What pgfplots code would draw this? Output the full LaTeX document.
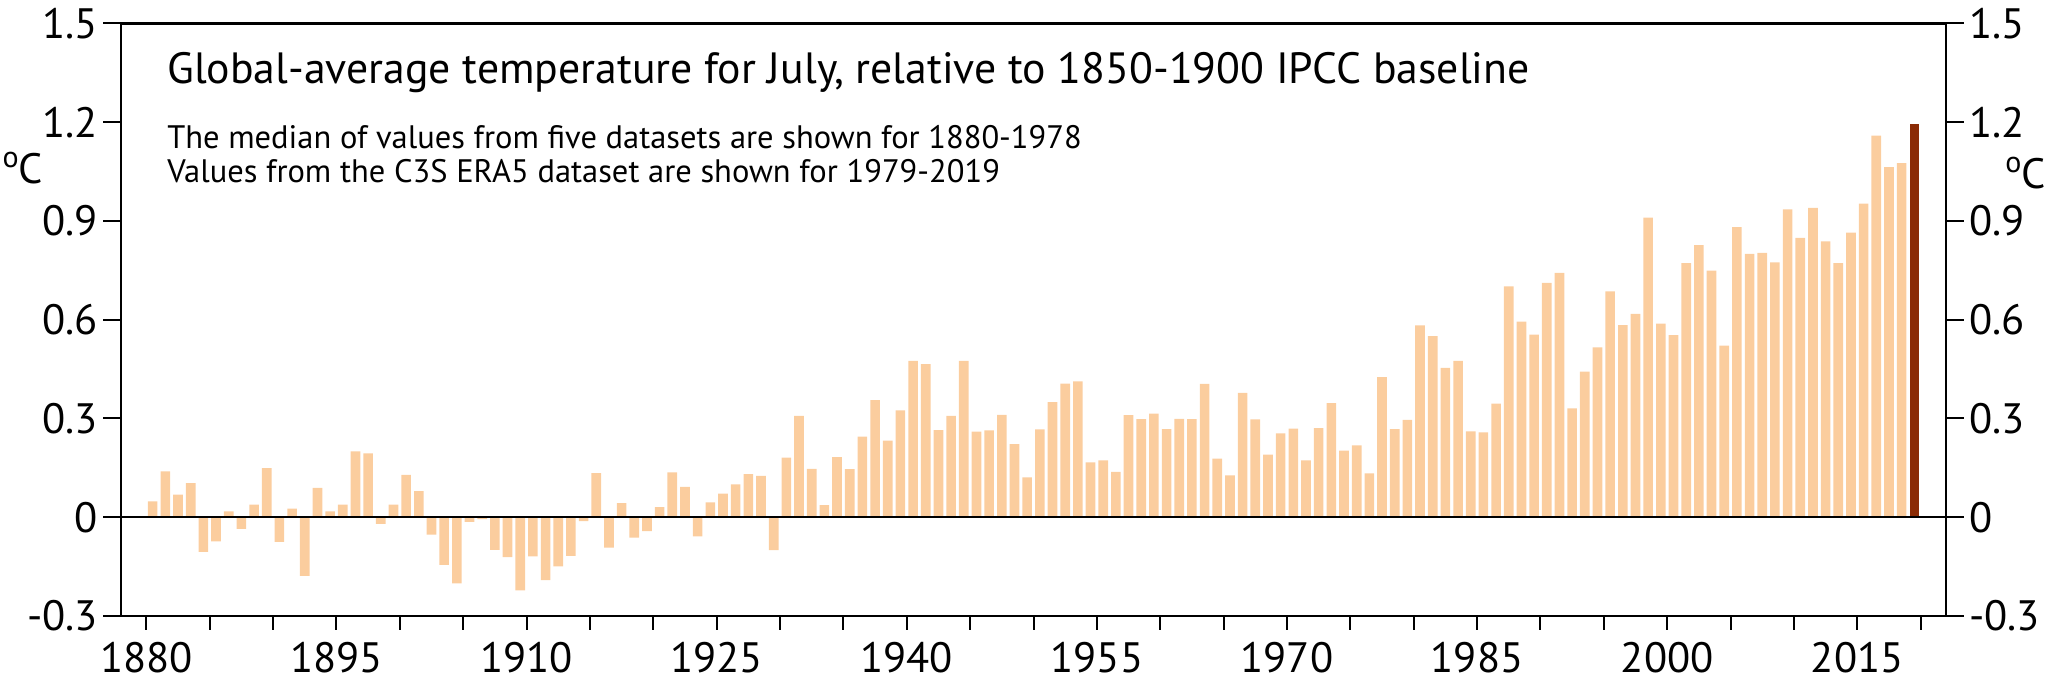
\documentclass[border=0pt]{standalone}
\usepackage{fontspec}
\setmainfont{PT Sans}
\usepackage{pgfplots}
\usepackage{pgfplotstable}
\pgfplotsset{compat=1.18}
\definecolor{lightbar}{RGB}{251,205,158}
\definecolor{darkbar}{RGB}{139,43,5}
\pgfplotstableread{
year value
1880 0.048
1881 0.139
1882 0.069
1883 0.104
1884 -0.105
1885 -0.073
1886 0.018
1887 -0.035
1888 0.038
1889 0.149
1890 -0.075
1891 0.026
1892 -0.178
1893 0.089
1894 0.018
1895 0.038
1896 0.200
1897 0.194
1898 -0.020
1899 0.038
1900 0.129
1901 0.079
1902 -0.053
1903 -0.145
1904 -0.201
1905 -0.014
1906 -0.006
1907 -0.099
1908 -0.121
1909 -0.222
1910 -0.119
1911 -0.191
1912 -0.149
1913 -0.117
1914 -0.012
1915 0.134
1916 -0.092
1917 0.043
1918 -0.062
1919 -0.042
1920 0.031
1921 0.136
1922 0.092
1923 -0.058
1924 0.045
1925 0.072
1926 0.100
1927 0.131
1928 0.126
1929 -0.100
1930 0.181
1931 0.308
1932 0.147
1933 0.037
1934 0.183
1935 0.146
1936 0.245
1937 0.356
1938 0.233
1939 0.325
1940 0.475
1941 0.465
1942 0.265
1943 0.308
1944 0.475
1945 0.260
1946 0.264
1947 0.311
1948 0.222
1949 0.121
1950 0.267
1951 0.350
1952 0.406
1953 0.413
1954 0.167
1955 0.173
1956 0.138
1957 0.310
1958 0.298
1959 0.315
1960 0.268
1961 0.299
1962 0.298
1963 0.405
1964 0.178
1965 0.127
1966 0.378
1967 0.297
1968 0.190
1969 0.255
1970 0.269
1971 0.173
1972 0.271
1973 0.347
1974 0.202
1975 0.218
1976 0.133
1977 0.426
1978 0.268
1979 0.296
1980 0.583
1981 0.550
1982 0.454
1983 0.475
1984 0.261
1985 0.258
1986 0.345
1987 0.701
1988 0.594
1989 0.555
1990 0.712
1991 0.742
1992 0.331
1993 0.442
1994 0.516
1995 0.686
1996 0.584
1997 0.618
1998 0.910
1999 0.588
2000 0.553
2001 0.772
2002 0.827
2003 0.749
2004 0.521
2005 0.881
2006 0.800
2007 0.803
2008 0.774
2009 0.935
2010 0.849
2011 0.940
2012 0.838
2013 0.772
2014 0.865
2015 0.953
2016 1.159
2017 1.064
2018 1.076
}\lightdata
\pgfplotstableread{
year value
2019 1.195
}\darkdata
\begin{document}
\begin{tikzpicture}
\pgfplotsset{
  common/.style={
    scale only axis, width=730pt, height=237pt,
    xmin=1878, xmax=2022, ymin=-0.3, ymax=1.5,
    axis line style={line width=1pt},
    ytick={-0.3,0,0.3,0.6,0.9,1.2,1.5},
    yticklabels={-0.3,0,0.3,0.6,0.9,1.2,1.5},
    tick align=outside,
    major tick length=7pt,
    tick style={black, line width=0.8pt},
    ticklabel style={font=\fontsize{17}{17}\selectfont},
    yticklabel style={inner xsep=2pt},
    /pgf/number format/assume math mode=true,
  }
}
\begin{axis}[common, name=main,
  xtick={1880,1885,...,2020},
  xticklabels={1880,,,1895,,,1910,,,1925,,,1940,,,1955,,,1970,,,1985,,,2000,,,2015,,},
  xtick pos=bottom, ytick pos=left,
  x axis line style={line width=1.5pt},
  xtick style={/pgfplots/major tick length=5.5pt},
  clip=false,
]
\addplot[ybar, bar width=0.76, bar shift=0pt, fill=lightbar, draw=none]
  table[x expr=\thisrow{year}+0.5, y=value] {\lightdata};
\addplot[ybar, bar width=0.76, bar shift=0pt, fill=darkbar, draw=none]
  table[x expr=\thisrow{year}+0.5, y=value] {\darkdata};
\addplot[black, line width=1pt, mark=none] coordinates {(1878,0) (2022,0)};
\node[anchor=west, font=\fontsize{17.5}{17.5}\selectfont] at (axis cs:1878,1.35) [xshift=15pt] {Global-average temperature for July, relative to 1850-1900 IPCC baseline};
\node[anchor=west, font=\fontsize{13}{13}\selectfont] at (axis cs:1878,1.154) [xshift=15pt] {The median of values from five datasets are shown for 1880-1978};
\node[anchor=west, font=\fontsize{13}{13}\selectfont] at (axis cs:1878,1.05) [xshift=15pt] {Values from the C3S ERA5 dataset are shown for 1979-2019};
\node[anchor=east, inner sep=0pt, font=\fontsize{17}{17}\selectfont] at (axis cs:1878,1.06) [xshift=-31pt] {\raisebox{0.75ex}{\fontsize{12}{12}\selectfont o}C};
\node[anchor=west, inner sep=0pt, font=\fontsize{17}{17}\selectfont] at (axis cs:2022,1.045) [xshift=23.5pt] {\raisebox{0.75ex}{\fontsize{12}{12}\selectfont o}C};
\end{axis}
\begin{axis}[common,
  hide x axis, axis y line*=right,
  ytick pos=right,
]
\end{axis}
\pgfresetboundingbox
\path[use as bounding box] ([xshift=-48.4pt,yshift=-31.4pt]main.south west) rectangle ([xshift=40.8pt,yshift=9.4pt]main.north east);
\end{tikzpicture}
\end{document}
